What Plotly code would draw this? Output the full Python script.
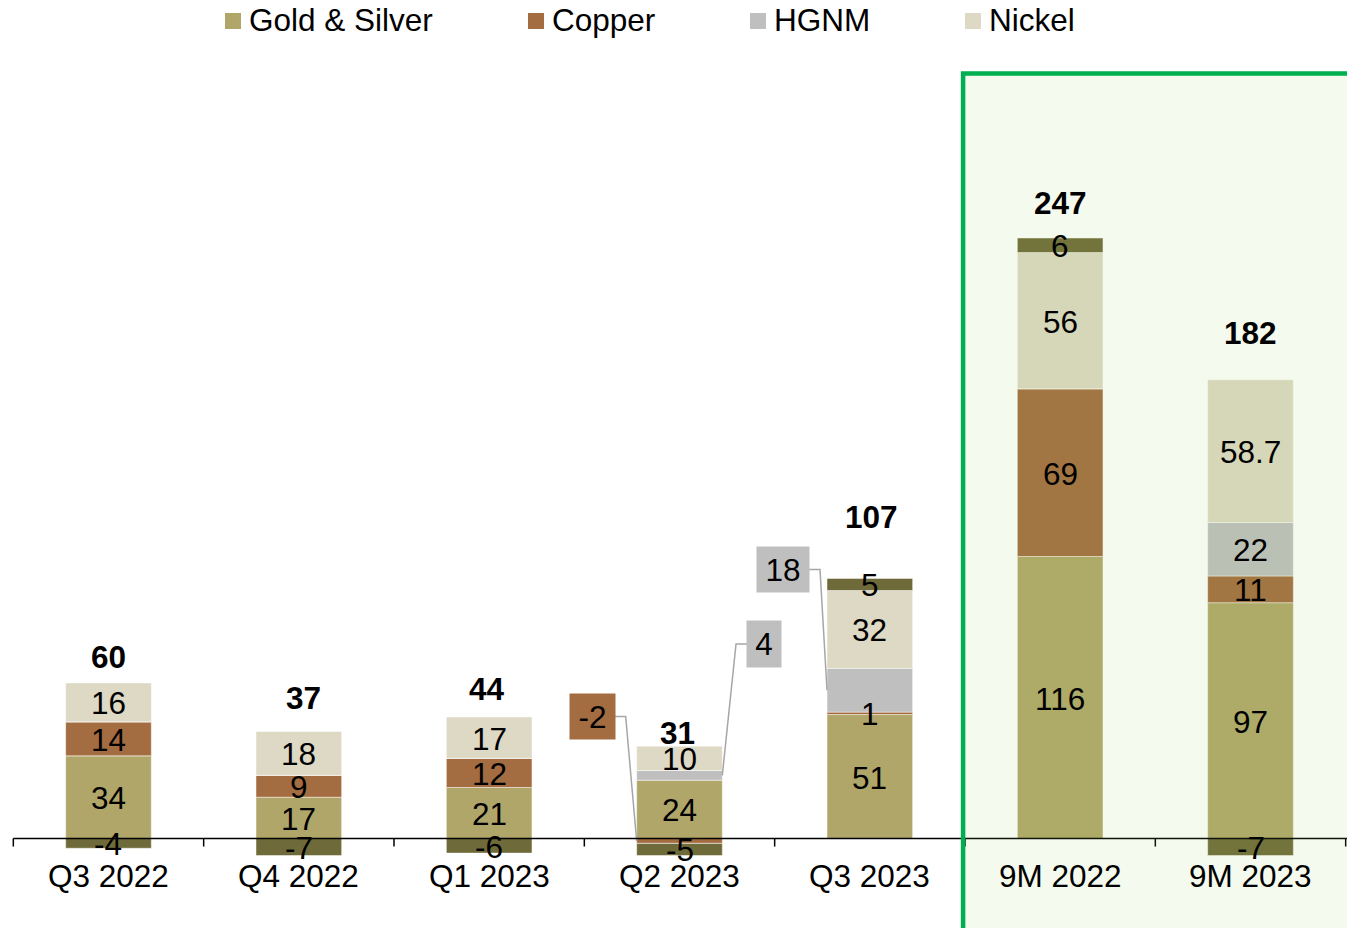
import plotly.graph_objects as go
import numpy as np

# ---------------- data ----------------
categories = ["Q3 2022", "Q4 2022", "Q1 2023", "Q2 2023", "Q3 2023", "9M 2022", "9M 2023"]
gold_silver = [34, 17, 21, 24, 51, 116, 97]
copper = [14, 9, 12, -2, 1, 69, 11]
hgnm = [0, 0, 0, 4, 18, 0, 22]
nickel = [16, 18, 17, 10, 32, 56, 58.7]
other = [-4, -7, -6, -5, 5, 6, -7]
totals = [60, 37, 44, 31, 107, 247, 182]

series_names = ["Gold & Silver", "Copper", "HGNM", "Nickel", "Other"]
series_vals = [gold_silver, copper, hgnm, nickel, other]
series_cols = ["#B1A66A", "#A46C41", "#BFBFBF", "#DDD9C4", "#6F6A3A"]

# ---------------- layout constants ----------------
W, H = 1347, 928
XR = [-0.570, 6.507]
YR = [-36.8, 344.9]
PXX = W / (XR[1] - XR[0])   # px per x unit
PXY = H / (YR[1] - YR[0])   # px per y unit
FONT = "Liberation Sans, Arial, sans-serif"
FS = 31.5
BW = 0.45

fig = go.Figure()
x = list(range(len(categories)))
for name, vals, col in zip(series_names, series_vals, series_cols):
    fig.add_trace(go.Bar(
        x=x, y=vals, name=name, width=BW,
        marker=dict(color=col, line=dict(color="rgba(255,255,255,0.6)", width=0.8)),
        showlegend=False, hoverinfo="skip"))

# stack positions (relative mode)
n = len(categories)
pos_base = np.zeros(n)
neg_base = np.zeros(n)
mids = []
for vals in series_vals:
    v = np.array(vals, dtype=float)
    m = np.zeros(n)
    for i in range(n):
        if v[i] >= 0:
            m[i] = pos_base[i] + v[i] / 2
            pos_base[i] += v[i]
        else:
            m[i] = neg_base[i] + v[i] / 2
            neg_base[i] += v[i]
    mids.append(m)

# callouts: (series index, category index, box dx px, box dy px, w, h)
callouts = [(1, 3, -44.5, -124.5, 45, 45, "left"),
            (2, 3, 41.7, -131.3, 34, 46, "right"),
            (2, 4, -44.0, -120.7, 52, 45, "left")]
callout_keys = {(c[0], c[1]) for c in callouts}

annotations = []
for s, (vals, m) in enumerate(zip(series_vals, mids)):
    for i in range(n):
        v = vals[i]
        if v == 0 or (s, i) in callout_keys:
            continue
        annotations.append(dict(x=i, y=m[i], text=f"{v:g}", showarrow=False,
                                xanchor="center", yanchor="middle", yshift=-1,
                                font=dict(family=FONT, size=FS, color="#000")))

# totals
total_shift = [26, 34, 28, 13, 61, 35, 47]
total_xshift = [0, 5, -2, -2, 2, 0, 0]
for i in range(n):
    annotations.append(dict(x=i, y=pos_base[i], text=f"<b>{totals[i]}</b>", showarrow=False,
                            xanchor="center", yanchor="middle",
                            yshift=total_shift[i], xshift=total_xshift[i],
                            font=dict(family=FONT, size=FS, color="#000")))

shapes = []
# callout boxes and leader lines
for s, i, dx, dy, bw, bh, side in callouts:
    v = series_vals[s][i]
    ax = i - BW / 2 if side == "left" else i + BW / 2
    ay = mids[s][i]
    cx = ax + dx / PXX
    cy = ay - dy / PXY
    annotations.append(dict(x=cx, y=cy, text=f"{v:g}", showarrow=False,
                            xanchor="center", yanchor="middle",
                            width=bw, height=bh, borderpad=0,
                            bgcolor=series_cols[s],
                            font=dict(family=FONT, size=FS, color="#000")))
    sign = 1 if side == "left" else -1
    ex = cx + sign * (bw / 2) / PXX
    elx = ex + sign * 11 / PXX
    shapes.append(dict(type="path", xref="x", yref="y",
                       path=f"M {ex},{cy} L {elx},{cy} L {ax},{ay}",
                       line=dict(color="#A6A6A6", width=1.5), layer="above"))

# axis line and tick marks
shapes.append(dict(type="line", xref="x", yref="y", x0=-0.5, x1=XR[1], y0=0, y1=0,
                   line=dict(color="#000", width=1.5), layer="above"))
for k in range(n + 1):
    shapes.append(dict(type="line", xref="x", yref="y", x0=-0.5 + k, x1=-0.5 + k,
                       y0=0, y1=-8 / PXY, line=dict(color="#000", width=1.5), layer="above"))

# category labels
for i, c in enumerate(categories):
    annotations.append(dict(x=i, y=-37.5 / PXY, text=c, showarrow=False,
                            xanchor="center", yanchor="middle",
                            font=dict(family=FONT, size=FS, color="#000")))

# highlight box for 9M
shapes.append(dict(type="rect", xref="x", yref="y", x0=4.49, x1=7.0, y0=-60, y1=314.7,
                   line=dict(color="#00B050", width=4.5),
                   fillcolor="rgba(146,208,80,0.1)", layer="above"))

# legend (manual)
leg_sq_x = [225, 528, 750, 965]
for name, col, lx in zip(series_names[:4], series_cols[:4], leg_sq_x):
    shapes.append(dict(type="rect", xref="paper", yref="paper",
                       x0=lx / W, x1=(lx + 16) / W, y0=1 - 29 / H, y1=1 - 13 / H,
                       fillcolor=col, line=dict(width=0)))
    annotations.append(dict(x=(lx + 22) / W, y=1 - 20 / H, xref="paper", yref="paper",
                            text=name, showarrow=False, xanchor="left", yanchor="middle",
                            font=dict(family=FONT, size=FS, color="#000")))

fig.update_layout(
    width=W, height=H, barmode="relative",
    margin=dict(l=0, r=0, t=0, b=0),
    paper_bgcolor="white", plot_bgcolor="white",
    xaxis=dict(range=XR, visible=False, fixedrange=True),
    yaxis=dict(range=YR, visible=False, fixedrange=True),
    annotations=annotations, shapes=shapes, showlegend=False,
    font=dict(family=FONT),
)

fig.write_html("out.html")
